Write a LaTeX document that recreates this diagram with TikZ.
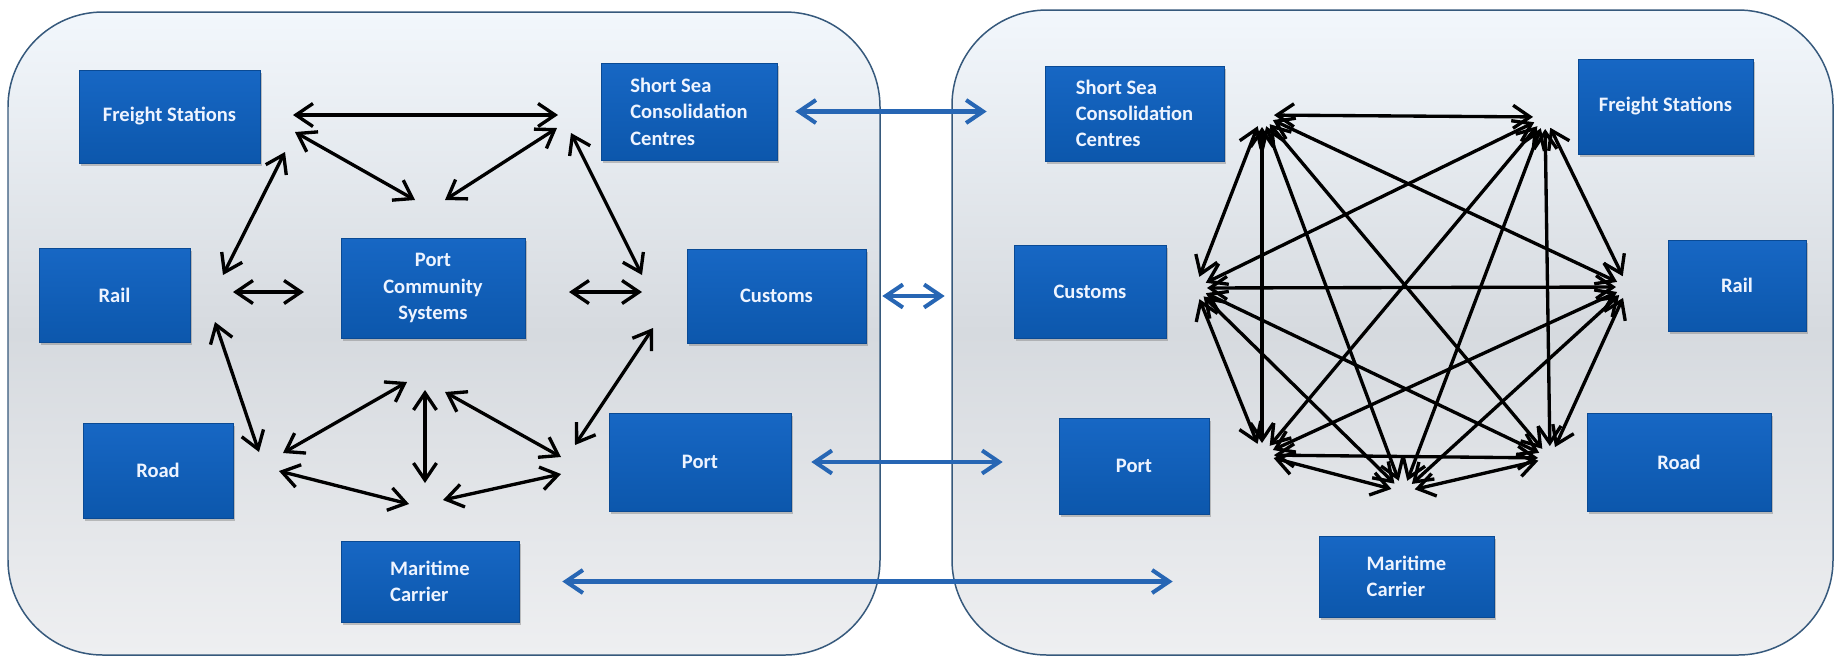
\documentclass[tikz,border=0pt]{standalone}
\usepackage{fontspec}
\setmainfont{Carlito}
\usetikzlibrary{arrows.meta,shadows}

\definecolor{panelline}{HTML}{36597C}
\definecolor{paneltop}{HTML}{F2F7FC}
\definecolor{panelmid}{HTML}{D6DADF}
\definecolor{panelbot}{HTML}{EEEFF1}
\definecolor{boxtop}{HTML}{1767C4}
\definecolor{boxbot}{HTML}{0C57AC}
\definecolor{boxline}{HTML}{0A4A94}
\definecolor{boxtext}{HTML}{EEF4FF}
\definecolor{linkblue}{HTML}{2766B4}

\begin{document}
\begin{tikzpicture}[
		x=0.02cm, y=-0.02cm,
		>={Straight Barb[length=0.34cm, width=0.46cm]},
		panel/.style={draw=panelline, line width=0.85pt, rounded corners=1.9cm,
				top color=paneltop, bottom color=panelbot, middle color=panelmid},
		actor/.style 2 args={draw=boxline, line width=0.4pt,
				top color=boxtop, bottom color=boxbot, text=boxtext,
				font=\bfseries\fontsize{11.7}{15}\selectfont, align=left,
				minimum width=#1, minimum height=#2, inner sep=0pt,
				drop shadow={shadow xshift=1.2pt, shadow yshift=-1.5pt, opacity=0.45}},
		link/.style={<->, line width=1.9pt, black},
		hub/.style={link, shorten >=0.24cm, shorten <=0.24cm},
		bridge/.style={<->, line width=2.3pt, linkblue},
	]

	\path[use as bounding box, fill=white] (0,0) rectangle (1835,657);

	% the two communities
	\draw[panel] (8,12) rectangle (880,655);
	\draw[panel] (952,10) rectangle (1833,655);

	% left: everything passes through the port community system
	\node[actor={3.62cm}{1.86cm}] (fsL) at (169.5,116.5) {Freight Stations};
	\node[actor={3.52cm}{1.94cm}] (ssL) at (689,111.5) {Short Sea\\Consolidation\\Centres};
	\node[actor={3.02cm}{1.88cm}] (raL) at (114.5,295) {Rail};
	\node[actor={3.68cm}{2.0cm}, align=center] (pcs) at (433,288) {Port\\Community\\Systems};
	\node[actor={3.58cm}{1.88cm}] (cuL) at (776.5,296) {Customs};
	\node[actor={3.0cm}{1.9cm}] (roL) at (158,470.5) {Road};
	\node[actor={3.64cm}{1.96cm}] (poL) at (700,462) {Port};
	\node[actor={3.56cm}{1.62cm}] (maL) at (430,581.5) {Maritime\\Carrier};

	% right: every party talks to every other one
	\node[actor={3.58cm}{1.9cm}] (ssR) at (1134.5,113.5) {Short Sea\\Consolidation\\Centres};
	\node[actor={3.5cm}{1.9cm}] (fsR) at (1665.5,106.5) {Freight Stations};
	\node[actor={3.04cm}{1.86cm}] (cuR) at (1090,291.5) {Customs};
	\node[actor={2.76cm}{1.82cm}] (raR) at (1737,285.5) {Rail};
	\node[actor={3.0cm}{1.92cm}] (poR) at (1134,466) {Port};
	\node[actor={3.68cm}{1.96cm}] (roR) at (1679,462) {Road};
	\node[actor={3.5cm}{1.62cm}] (maR) at (1406.5,576.5) {Maritime\\Carrier};

	% links between the two sides
	\draw[bridge, shorten <=0.36cm, shorten >=1.16cm] (ssL.east) -- (ssL.east -| ssR.west);
	\draw[bridge, shorten <=0.32cm, shorten >=1.38cm] (cuL.east) -- (cuL.east -| cuR.west);
	\draw[bridge, shorten <=0.4cm, shorten >=1.12cm] (poL.east) -- (poL.east -| poR.west);
	\draw[bridge, shorten <=0.86cm, shorten >=2.92cm] (maL.east) -- (maL.east -| maR.west);

	% arrow ends around the left ring
	\coordinate (fs-ss) at (293,115);  \coordinate (ss-fs) at (558,115);
	\coordinate (fs-pcs) at (295,132); \coordinate (pcs-fs) at (415,200);
	\coordinate (ss-pcs) at (557,128); \coordinate (pcs-ss) at (445,200);
	\coordinate (fs-ra) at (285,152);  \coordinate (ra-fs) at (223,275);
	\coordinate (ss-cu) at (571,133);  \coordinate (cu-ss) at (642,275);
	\coordinate (ra-pcs) at (233,292); \coordinate (pcs-ra) at (304,292);
	\coordinate (pcs-cu) at (569,292); \coordinate (cu-pcs) at (642,292);
	\coordinate (ra-ro) at (215,322);  \coordinate (ro-ra) at (259,452);
	\coordinate (cu-po) at (653,328);  \coordinate (po-cu) at (575,445);
	\coordinate (pcs-ro) at (407,382); \coordinate (ro-pcs) at (283,453);
	\coordinate (pcs-ma) at (425,390); \coordinate (ma-pcs) at (425,483);
	\coordinate (pcs-po) at (445,392); \coordinate (po-pcs) at (561,457);
	\coordinate (ro-ma) at (279,471);  \coordinate (ma-ro) at (409,504);
	\coordinate (ma-po) at (443,500);  \coordinate (po-ma) at (561,474);

	\draw[link] (fs-ss) -- (ss-fs);
	\draw[link] (fs-pcs) -- (pcs-fs);
	\draw[link] (ss-pcs) -- (pcs-ss);
	\draw[link] (fs-ra) -- (ra-fs);
	\draw[link] (ss-cu) -- (cu-ss);
	\draw[link] (ra-pcs) -- (pcs-ra);
	\draw[link] (pcs-cu) -- (cu-pcs);
	\draw[link] (ra-ro) -- (ro-ra);
	\draw[link] (cu-po) -- (po-cu);
	\draw[link] (pcs-ro) -- (ro-pcs);
	\draw[link] (pcs-ma) -- (ma-pcs);
	\draw[link] (pcs-po) -- (po-pcs);
	\draw[link] (ro-ma) -- (ma-ro);
	\draw[link] (ma-po) -- (po-ma);

	% hubs of the right mesh
	\coordinate (hub-ss) at (1262,115);
	\coordinate (hub-fs) at (1545,117);
	\coordinate (hub-ra) at (1628,287);
	\coordinate (hub-ro) at (1550,458);
	\coordinate (hub-ma) at (1403,492);
	\coordinate (hub-po) at (1262,455);
	\coordinate (hub-cu) at (1195,288);

	\draw[hub] (hub-ss) -- (hub-fs);
	\draw[hub] (hub-ss) -- (hub-ra);
	\draw[hub] (hub-ss) -- (hub-ro);
	\draw[hub] (hub-ss) -- (hub-ma);
	\draw[hub] (hub-ss) -- (hub-po);
	\draw[hub] (hub-ss) -- (hub-cu);
	\draw[hub] (hub-fs) -- (hub-ra);
	\draw[hub] (hub-fs) -- (hub-ro);
	\draw[hub] (hub-fs) -- (hub-ma);
	\draw[hub] (hub-fs) -- (hub-po);
	\draw[hub] (hub-fs) -- (hub-cu);
	\draw[hub] (hub-ra) -- (hub-ro);
	\draw[hub] (hub-ra) -- (hub-ma);
	\draw[hub] (hub-ra) -- (hub-po);
	\draw[hub] (hub-ra) -- (hub-cu);
	\draw[hub] (hub-ro) -- (hub-ma);
	\draw[hub] (hub-ro) -- (hub-po);
	\draw[hub] (hub-ro) -- (hub-cu);
	\draw[hub] (hub-ma) -- (hub-po);
	\draw[hub] (hub-ma) -- (hub-cu);
	\draw[hub] (hub-po) -- (hub-cu);

\end{tikzpicture}
\end{document}
